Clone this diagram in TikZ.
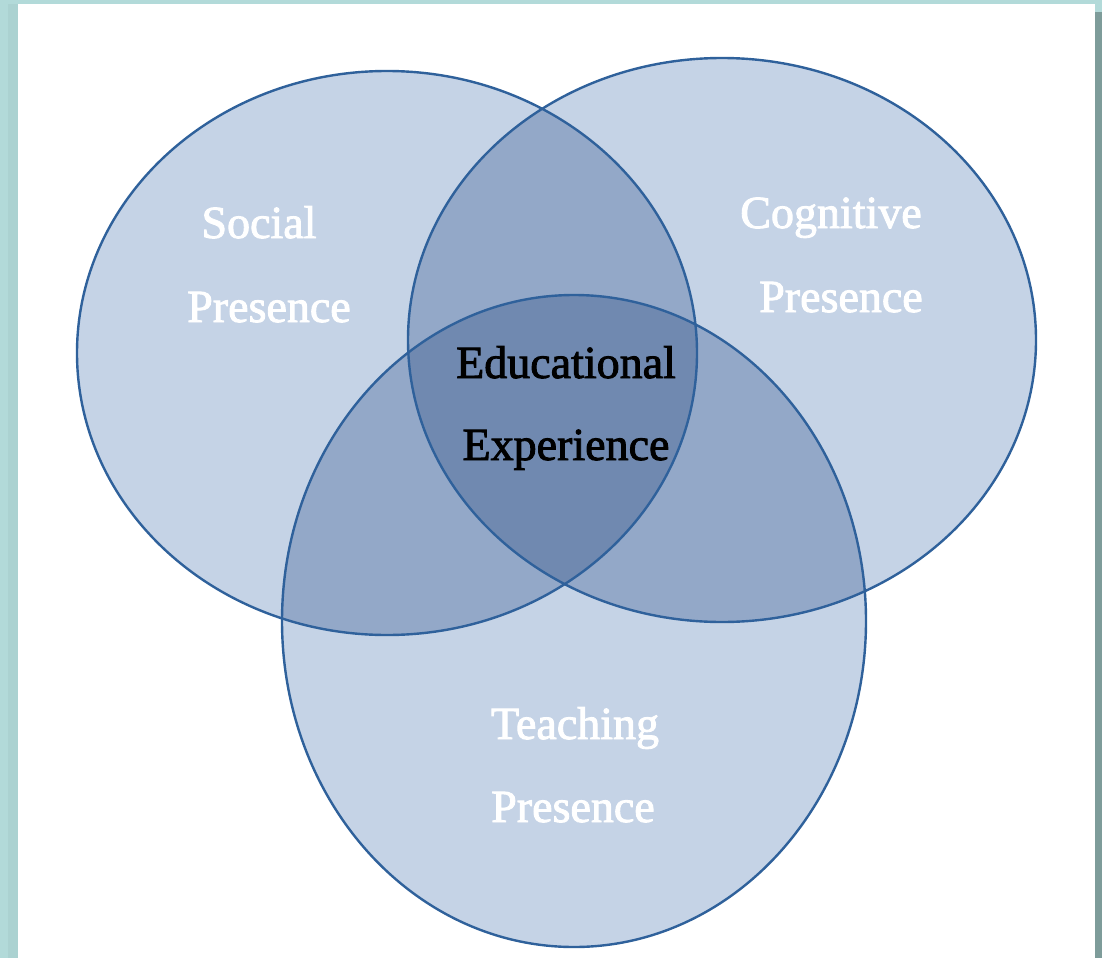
\documentclass[tikz,border=0pt]{standalone}
\usepackage{fontspec}
\setmainfont{Liberation Serif}
\newcommand\heavytext[1]{\special{pdf:literal direct 2 Tr 0.9 w}#1\special{pdf:literal direct 0 Tr}}
\definecolor{tealbg}{HTML}{B2DAD9}
\definecolor{tealdk}{HTML}{ABD2D1}
\definecolor{rightbar}{HTML}{7E9C9A}
\definecolor{one}{HTML}{C5D3E6}
\definecolor{two}{HTML}{93A8C8}
\definecolor{three}{HTML}{7089B0}
\definecolor{edge}{HTML}{2F619B}
\tikzset{
  lbl/.style={anchor=base, font=\fontsize{46}{50}\selectfont, text=white, inner sep=0pt},
  lbldark/.style={lbl, text=black},
  rim/.style={draw=edge, line width=2.4pt}
}
\begin{document}
\begin{tikzpicture}[x=1pt,y=-1pt]
\useasboundingbox (0,0) rectangle (1102,958);
\fill[tealbg] (0,0) rectangle (1102,958);
\fill[tealdk] (8,4) rectangle (18,958);
\fill[rightbar] (1095,12) rectangle (1102,958);
\fill[white] (18,4) rectangle (1095,958);
\def\Soc{(387,353) ellipse [x radius=310, y radius=282]}
\def\Cog{(722,340) ellipse [x radius=314, y radius=282]}
\def\Tea{(574,621) ellipse [x radius=292, y radius=326]}
% single
\fill[one] \Soc; \fill[one] \Cog; \fill[one] \Tea;
% doubles
\begin{scope}\clip \Soc; \fill[two] \Cog; \fill[two] \Tea; \end{scope}
\begin{scope}\clip \Cog; \fill[two] \Tea; \end{scope}
% triple
\begin{scope}\clip \Soc; \clip \Cog; \fill[three] \Tea; \end{scope}
% outlines
\draw[rim] \Soc; \draw[rim] \Cog; \draw[rim] \Tea;
% labels
\node[lbl] (s1) at (259,238) {\heavytext{Social}};
\node[lbl] (s2) at (269,322) {\heavytext{Presence}};
\node[lbl] (c1) at (831,228) {\heavytext{Cognitive}};
\node[lbl] (c2) at (841,312) {\heavytext{Presence}};
\node[lbldark] (e1) at (566,378) {\heavytext{Educational}};
\node[lbldark] (e2) at (566,460) {\heavytext{Experience}};
\node[lbl] (t1) at (575,739) {\heavytext{Teaching}};
\node[lbl] (t2) at (573,822) {\heavytext{Presence}};
\end{tikzpicture}
\end{document}
